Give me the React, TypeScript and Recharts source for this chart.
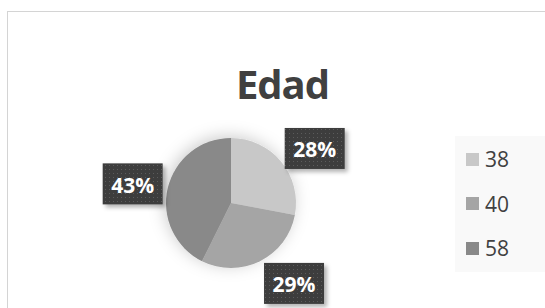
import { Cell, Legend, Pie, PieChart } from "recharts"

const categories = ["38", "40", "58"]
const values = [38, 40, 58]
const sliceColors = ["#c8c8c8", "#a5a5a5", "#898989"]

const data = categories.map((name, i) => ({ name, value: values[i] }))

// small nudges so the labels sit where Excel's "best fit" put them
const labelNudge = [
  [6, 10],
  [18, -10],
  [0, 4],
]

const RADIAN = Math.PI / 180

function renderLabel(props: any) {
  const { cx, cy, midAngle, outerRadius, percent, index } = props
  const r = outerRadius + 36
  const x = cx + r * Math.cos(-midAngle * RADIAN) + labelNudge[index][0]
  const y = cy + r * Math.sin(-midAngle * RADIAN) + labelNudge[index][1]
  return (
    <g>
      <rect x={x - 30} y={y - 20.5} width={60} height={41} fill="url(#dots)" filter="url(#boxShadow)" />
      <text
        x={x}
        y={y + 1}
        textAnchor="middle"
        dominantBaseline="central"
        fill="#ffffff"
        fontSize={21}
        fontWeight={700}
        fontFamily="Open Sans"
      >
        {Math.round(percent * 100)}%
      </text>
    </g>
  )
}

function LegendBox() {
  return (
    <div style={{ background: "#f9f9f9", width: 100, height: 136, paddingTop: 1, boxSizing: "border-box" }}>
      {data.map((d, i) => (
        <div key={d.name} style={{ display: "flex", alignItems: "center", height: 44.5 }}>
          <span style={{ width: 13, height: 13, background: sliceColors[i], marginLeft: 11, marginRight: 6 }} />
          <span style={{ fontFamily: "Open Sans", fontSize: 21, lineHeight: "24px", color: "#404040" }}>{d.name}</span>
        </div>
      ))}
    </div>
  )
}

export default function App() {
  return (
    <div style={{ position: "fixed", left: 0, top: 0, width: 545, height: 308, overflow: "hidden", background: "#fff" }}>
      <style>{`.recharts-pie { filter: url(#pieShadow); }`}</style>
      <svg width={0} height={0} style={{ position: "absolute" }}>
        <defs>
          <pattern id="dots" width={4} height={4} patternUnits="userSpaceOnUse">
            <rect width={4} height={4} fill="#3d3d3d" />
            <rect x={1} y={1} width={1} height={1} fill="#5c5c5c" />
          </pattern>
          <filter id="boxShadow" x="-30%" y="-30%" width="160%" height="160%">
            <feDropShadow dx={3} dy={3} stdDeviation={2} floodColor="#000" floodOpacity={0.3} />
          </filter>
          <filter id="pieShadow" x="-40%" y="-40%" width="180%" height="180%">
            <feDropShadow dx={-2} dy={-2} stdDeviation={8} floodColor="#000" floodOpacity={0.2} />
          </filter>
        </defs>
      </svg>
      <div
        style={{
          position: "absolute",
          left: 7,
          top: 11,
          width: 560,
          height: 320,
          border: "1px solid #d4d4d4",
        }}
      />
      <div
        style={{
          position: "absolute",
          left: 0,
          top: 56,
          width: 545,
          textAlign: "center",
          fontFamily: "Open Sans",
          fontWeight: 700,
          fontSize: 40,
          letterSpacing: -1,
          color: "#404040",
          paddingLeft: 20,
          boxSizing: "border-box",
          lineHeight: "56px",
        }}
      >
        Edad
      </div>
      <div style={{ position: "absolute", left: 0, top: 0 }}>
        <PieChart width={545} height={308} margin={{ top: 0, right: 0, bottom: 0, left: 0 }}>
          <Pie
            data={data}
            dataKey="value"
            nameKey="name"
            cx={231}
            cy={203}
            outerRadius={65}
            startAngle={90}
            endAngle={-270}
            stroke="none"
            labelLine={false}
            label={renderLabel}
            isAnimationActive={false}
          >
            {data.map((d, i) => (
              <Cell key={d.name} fill={sliceColors[i]} />
            ))}
          </Pie>
          <Legend
            layout="vertical"
            align="right"
            verticalAlign="top"
            content={() => <LegendBox />}
            wrapperStyle={{ left: 455, top: 136, width: 100 }}
          />
        </PieChart>
      </div>
    </div>
  )
}
